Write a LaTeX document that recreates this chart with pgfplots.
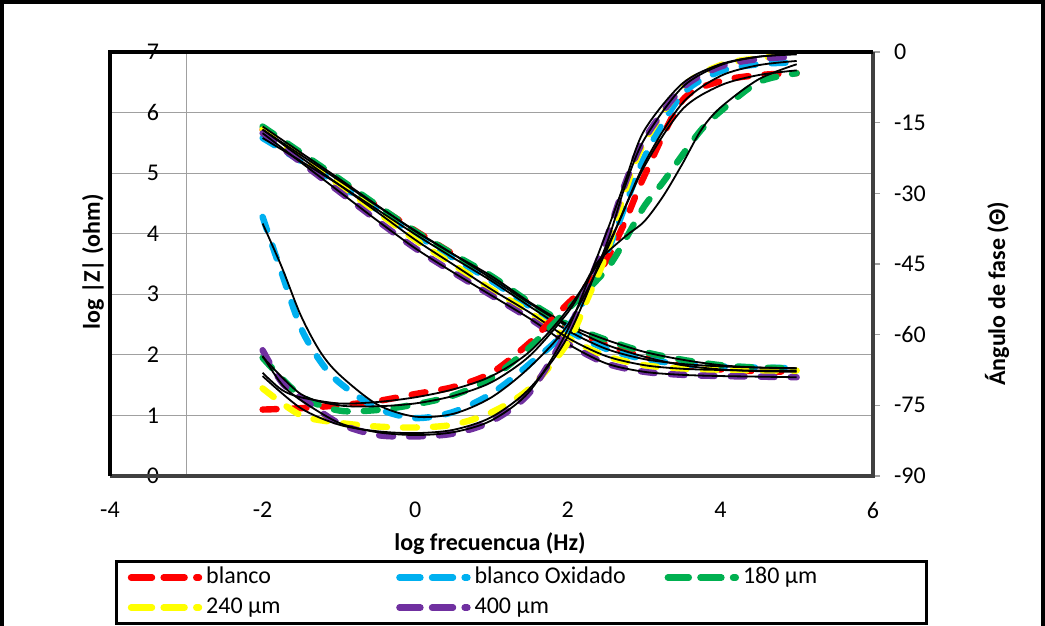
\documentclass[border=0pt]{standalone}
\usepackage{pgfplots}
\usepackage{pgfplotstable}
\pgfplotsset{compat=1.18}
\usepackage{fontspec}
\setmainfont{Carlito}
\definecolor{cred}{HTML}{FF0000}
\definecolor{cblue}{HTML}{00B0F0}
\definecolor{cgreen}{HTML}{00B050}
\definecolor{cyellow}{HTML}{FFFF00}
\definecolor{cpurple}{HTML}{7030A0}
\definecolor{gridgray}{HTML}{A0A0A0}

% log |Z| (ohm) versus log frequency
\pgfplotstableread{
x    red  blue green yellow purple
-2   5.72 5.58 5.77 5.72 5.66
-1.5 5.30 5.20 5.34 5.26 5.18
-1   4.88 4.81 4.91 4.81 4.70
-0.5 4.46 4.40 4.47 4.36 4.22
0    4.05 3.99 4.04 3.90 3.76
0.5  3.66 3.60 3.66 3.49 3.36
1    3.26 3.22 3.30 3.08 2.98
1.5  2.85 2.80 2.87 2.70 2.60
2    2.47 2.40 2.50 2.28 2.18
2.5  2.17 2.10 2.25 1.98 1.86
3    1.97 1.93 2.05 1.83 1.72
3.5  1.83 1.85 1.92 1.77 1.67
4    1.76 1.81 1.83 1.75 1.65
4.5  1.73 1.79 1.79 1.74 1.64
5    1.72 1.78 1.78 1.74 1.63
}\zmod

\pgfplotsset{
  ser/.style={line width=3.2pt, dash pattern=on 7pt off 8pt, line cap=round, line join=round, smooth, mark=none},
  fit/.style={black, line width=0.9pt, smooth, mark=none, forget plot},
}

\begin{document}
\begin{tikzpicture}[x=1pt,y=1pt]
\path[use as bounding box] (0,0) rectangle (522.5,313);
\draw[line width=2pt] (1,-3) -- (1,312) -- (521.5,312) -- (521.5,-3);

% ---------- impedance axis (left) ----------
\begin{axis}[
  at={(55pt,75pt)}, anchor=south west, scale only axis,
  width=381.5pt, height=212pt,
  xmin=-4, xmax=6, ymin=0, ymax=7,
  xtick={-4,-2,...,6}, ytick={0,1,...,7},
  axis line style={draw=none},
  major tick length=0pt,
  ymajorgrids, grid style={draw=gridgray, line width=0.6pt},
  /pgf/number format/assume math mode=true,
  tick label style={font=\fontsize{12}{14}\selectfont},
  yticklabel style={anchor=center, xshift=21.5pt},
  xticklabel style={anchor=center, yshift=-17pt},
]
\draw[gridgray, line width=0.6pt] (axis cs:-3,0) -- (axis cs:-3,7);
\addplot[ser, cred]    table[x=x, y=red]    {\zmod};
\addplot[ser, cblue]   table[x=x, y=blue]   {\zmod};
\addplot[ser, cgreen]  table[x=x, y=green]  {\zmod};
\addplot[ser, cyellow] table[x=x, y=yellow] {\zmod};
\addplot[ser, cpurple] table[x=x, y=purple] {\zmod};
\addplot[fit] table[x=x, y=red]    {\zmod};
\addplot[fit] table[x=x, y=blue]   {\zmod};
\addplot[fit] table[x=x, y=green]  {\zmod};
\addplot[fit] table[x=x, y=yellow] {\zmod};
\addplot[fit] table[x=x, y=purple] {\zmod};
\end{axis}

% ---------- phase axis (right) ----------
\begin{axis}[
  at={(55pt,75pt)}, anchor=south west, scale only axis,
  width=381.5pt, height=212pt,
  xmin=-4, xmax=6, ymin=-90, ymax=0,
  axis x line=none,
  axis y line*=right,
  axis line style={draw=none},
  ytick={-90,-75,...,0},
  tick align=outside, major tick length=3.5pt,
  ytick style={draw=gridgray, line width=0.6pt},
  /pgf/number format/assume math mode=true,
  tick label style={font=\fontsize{12}{14}\selectfont},
  yticklabel style={anchor=west, xshift=3.5pt},
  legend columns=3,
  legend cell align=left,
  legend image code/.code={\draw[#1, dash pattern=on 10.5pt off 5.8pt] (0pt,0pt) -- (34pt,0pt);},
  legend style={at={(rel axis cs:0.0066,-0.198)}, anchor=north west,
    draw=black, line width=1.6pt, inner xsep=5.6pt, inner ysep=0.5pt,
    font=\fontsize{12}{14}\selectfont,
    nodes={inner sep=2pt, text height=8.5pt, text depth=2.5pt},
    /tikz/every even column/.append style={column sep=0pt}},
]
\addplot[ser, cred] coordinates {(-2,-75.9) (-1.5,-75.6) (-1,-75.0) (-0.5,-74.1) (0,-72.6) (0.5,-71.1) (1,-68.1) (1.5,-61.7) (1.75,-57.5) (2,-53.4) (2.25,-49.6) (2.5,-44.4) (2.75,-36.0) (3,-26.4) (3.5,-10.3) (4,-6.2) (4.5,-4.9) (5,-4.5)};
\addlegendentry{\makebox[93pt][l]{blanco}}
\addplot[ser, cblue] coordinates {(-2,-35.0) (-1.75,-46.9) (-1.5,-58.5) (-1.25,-65.5) (-1,-70.1) (-0.5,-75.6) (0,-77.7) (0.5,-76.4) (1,-72.5) (1.5,-66.2) (2,-58.5) (2.5,-43.1) (3,-22.5) (3.5,-9.0) (4,-4.1) (4.5,-2.6) (5,-2.2)};
\addlegendentry{\makebox[93pt][l]{blanco Oxidado}}
\addplot[ser, cgreen] coordinates {(-2,-64.9) (-1.5,-73.0) (-1,-76.1) (-0.5,-76.0) (0,-74.8) (0.5,-72.9) (1,-69.2) (1.5,-62.7) (2,-54.6) (2.5,-46.3) (2.75,-39.9) (3,-32.8) (3.25,-27.6) (3.5,-21.9) (3.75,-16.5) (4,-12.6) (4.5,-6.4) (5,-4.5)};
\addlegendentry{\makebox[84pt][l]{180 µm}}
\addplot[ser, cyellow] coordinates {(-2,-71.4) (-1.5,-77.1) (-1,-78.7) (-0.5,-79.5) (0,-79.7) (0.5,-79.1) (1,-76.5) (1.5,-71.4) (2,-61.7) (2.25,-52.7) (2.5,-43.1) (2.75,-29.6) (3,-19.3) (3.5,-7.5) (4,-2.8) (4.5,-1.3) (5,-0.6)};
\addlegendentry{\makebox[93pt][l]{240 µm}}
\addplot[ser, cpurple] coordinates {(-2,-63.3) (-1.75,-70.1) (-1.5,-73.3) (-1,-78.8) (-0.5,-81.3) (0,-81.6) (0.5,-81.0) (1,-78.4) (1.5,-72.3) (2,-59.1) (2.25,-50.0) (2.5,-39.9) (2.75,-28.0) (3,-18.6) (3.5,-7.7) (4,-3.1) (4.5,-1.5) (5,-1.0)};
\addlegendentry{\makebox[93pt][l]{400 µm}}
% fitted curves
\addplot[fit] coordinates {(-2,-68.1) (-1.75,-71.7) (-1.5,-73.3) (-1,-74.6) (-0.5,-74.3) (0,-73.3) (0.5,-71.6) (1,-68.8) (1.5,-63.6) (2,-54.6) (2.5,-41.8) (3,-24.4) (3.5,-12.2) (4,-7.1) (4.5,-4.9) (5,-3.9)};
\addplot[fit] coordinates {(-2,-36.4) (-1.75,-45.6) (-1.5,-55.9) (-1.25,-63.5) (-1,-68.4) (-0.5,-74.8) (0,-77.4) (0.5,-76.8) (1,-73.3) (1.5,-66.9) (2,-57.9) (2.5,-42.4) (3,-23.8) (3.5,-10.9) (4,-5.1) (4.5,-2.8) (5,-1.9)};
\addplot[fit] coordinates {(-2,-64.7) (-1.5,-72.6) (-1,-75.0) (-0.5,-75.2) (0,-74.6) (0.5,-73.0) (1,-70.1) (1.5,-64.5) (2,-55.3) (2.2,-49.9) (2.4,-44.4) (2.75,-39.2) (3,-36.0) (3.25,-30.6) (3.5,-23.8) (3.75,-16.5) (4,-11.8) (4.5,-5.8) (5,-2.6)};
\addplot[fit] coordinates {(-2,-68.8) (-1.5,-75.6) (-1,-79.1) (-0.5,-80.5) (0,-80.9) (0.5,-80.2) (1,-77.5) (1.5,-71.4) (2,-60.4) (2.5,-41.1) (2.75,-28.5) (3,-18.6) (3.5,-7.5) (4,-2.8) (4.5,-1.0) (5,-0.4)};
\addplot[fit] coordinates {(-2,-64.5) (-1.75,-70.5) (-1.5,-73.9) (-1,-78.7) (-0.5,-80.7) (0,-81.3) (0.5,-80.7) (1,-78.2) (1.5,-72.0) (2,-58.9) (2.5,-38.6) (2.75,-27.5) (3,-16.7) (3.5,-6.7) (4,-2.6) (4.5,-1.0) (5,-0.5)};
\end{axis}

% plot-area border
\draw[black!75, line width=1.6pt] (55,75) -- (436.5,75) -- (436.5,287);
\draw[black, line width=2.2pt] (55,75) -- (55,287) -- (436.5,287);

% axis titles
\node[font=\bfseries\fontsize{12}{14}\selectfont] at (245,41) {log frecuencua (Hz)};
\node[font=\bfseries\fontsize{12}{14}\selectfont, rotate=90] at (46.5,182) {log |Z| (ohm)};
\node[font=\bfseries\fontsize{12}{14}\selectfont, rotate=90] at (498.5,166) {Ángulo de fase (Θ)};
\end{tikzpicture}
\end{document}
